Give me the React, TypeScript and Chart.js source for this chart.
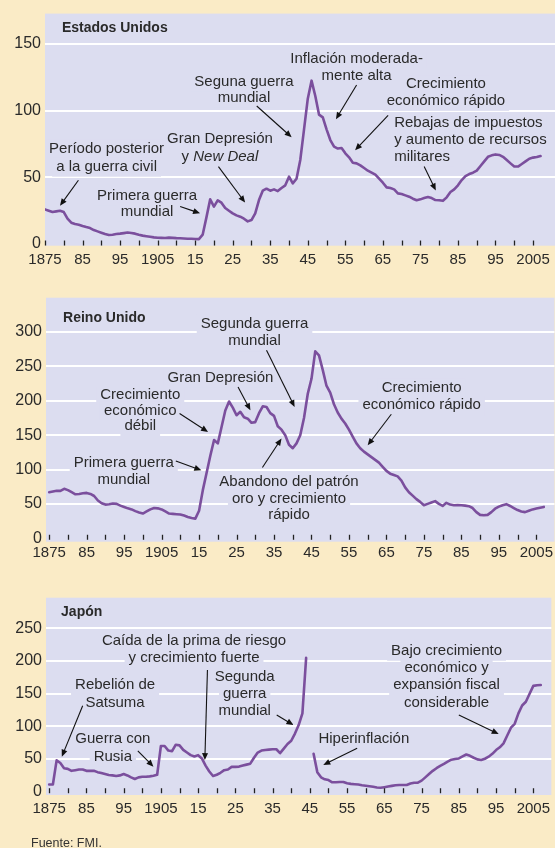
import React, { useEffect, useRef } from "react";
import { Chart, registerables } from "chart.js";

Chart.register(...registerables);

const BEIGE = "#FAEBC6";
const LAVENDER = "#DCDDF0";
const PURPLE = "#7B4F9D";
const TEXT = "#2A2A2A";
const FONT = '"Liberation Sans", Arial, sans-serif';
Chart.defaults.font.family = FONT;

// ---- Data (debt, % of GDP), one value per year 1875..2007 ----
const START_YEAR = 1875;

const US_DEBT = [
  26, 25, 24, 24.5, 25, 24, 19, 16, 15, 14.5, // 1875
  13.5, 12.7, 12, 10.5, 9.5, 8.5, 7.5, 6.8, 7, 7.5, // 1885
  7.8, 8.2, 8.6, 8.3, 7.8, 7, 6.3, 5.9, 5.5, 5, // 1895
  4.7, 4.6, 4.5, 4.8, 4.6, 4.4, 4.3, 4.2, 4, 4, // 1905
  3.8, 3.7, 7, 20, 33.5, 28, 32.8, 31, 27, 25, // 1915
  23, 21.5, 20.5, 19, 17, 18, 23, 33, 40, 41.5, // 1925
  40, 41, 39.7, 42, 44, 50.5, 45.5, 49, 63, 86, // 1935
  109, 122.5, 111, 97, 95, 86, 78, 73, 71.6, 72, // 1945
  68, 65, 61, 60.5, 59, 57, 55, 53.5, 52, 49, // 1955
  46, 42.5, 42, 41, 38, 37.5, 36.5, 35.5, 34, 32.8, // 1965
  33.5, 34.5, 35.3, 34.5, 33, 32.8, 32.4, 35, 39, 41, // 1975
  44, 48, 51, 52.5, 53.5, 55, 58.5, 62, 65.4, 66.5, // 1985
  67.2, 66.8, 65.4, 63, 60.5, 58.1, 58.1, 60, 62, 64, // 1995
  64.8, 65.2, 66, // 2005
];

const UK_DEBT = [
  67, 68, 69, 69, 72, 70, 67, 64, 64.5, 65.5, // 1875
  66, 64.5, 61.5, 55, 51, 49, 49.5, 50.5, 50, 47.5, // 1885
  45.5, 43.5, 42, 39.5, 37.5, 36, 39, 42, 44, 43.5, // 1895
  42, 39, 36, 35.5, 35, 34.5, 33, 31, 29.5, 28.5, // 1905
  40, 70, 95, 120, 143, 138, 162, 186, 199, 190, // 1915
  179, 184, 176, 174, 168, 169, 182, 192, 191, 182, // 1925
  178, 163, 158, 150, 136, 131, 138, 150, 175, 210, // 1935
  232, 272, 266, 245, 222, 212, 195, 183, 174, 167, // 1945
  158, 148, 138, 131, 126, 122, 118, 114, 110, 104, // 1955
  98, 94, 92, 90, 84, 74, 67, 62, 57, 53, // 1965
  48, 50, 52, 54, 50, 47, 51.5, 49, 48, 48.5, // 1975
  48, 47.5, 46.7, 44, 38, 34, 33.5, 34, 38, 43, // 1985
  46, 48, 49.6, 47, 44, 41, 39, 38, 40, 42, // 1995
  43.3, 44.5, 45.6, // 2005
];

const JAPAN_DEBT = [
  11, 11, 48, 44, 36, 35, 32, 33, 34, 34, // 1875
  32, 32, 32, 30, 28.5, 27, 25.5, 25, 24, 25, // 1885
  27, 25, 22, 19.5, 22, 23, 23, 23.5, 24.5, 26, // 1895
  70, 70, 63, 62, 72, 71, 64, 60, 56, 54, // 1905
  56, 51, 40, 31, 24, 26, 29, 33, 34, 38, // 1915
  38, 38.5, 40, 41.5, 43, 52, 60, 63, 64, 64.5, // 1925
  65, 65, 59, 66, 73, 78, 89, 102, 120, 205, // 1935
  null, 58, 30, 22, 19, 17.9, 14.5, 14.5, 15, 15, // 1945
  13, 12, 11.5, 11, 10, 9.2, 8.5, 7.5, 6.5, 6, // 1955
  7, 8, 9, 10, 10.3, 10.3, 10.3, 12.5, 13.8, 13.8, // 1965
  17, 22, 27, 32, 36, 39.5, 42.5, 46, 49, 50, // 1975
  51, 54, 57, 55, 52, 49.5, 48.5, 50.5, 53.6, 58, // 1985
  63.8, 68, 74, 86, 98, 104, 120, 132, 137.7, 150, // 1995
  162, 163, 163.3, // 2005
];

const YEARS = US_DEBT.map((_, i) => START_YEAR + i);

const X_TICK_YEARS = [1875, 1885, 1895, 1905, 1915, 1925, 1935, 1945, 1955, 1965, 1975, 1985, 1995, 2005];
const X_TICK_LABELS = ["1875", "85", "95", "1905", "15", "25", "35", "45", "55", "65", "75", "85", "95", "2005"];
const X_MINOR_TICK_YEARS = [
  1875, 1880, 1885, 1890, 1895, 1900, 1905, 1910, 1915, 1920, 1925, 1930, 1935, 1940,
  1945, 1950, 1955, 1960, 1965, 1970, 1975, 1980, 1985, 1990, 1995, 2000, 2005,
];

const US_Y_TICKS = [0, 50, 100, 150];
const UK_Y_TICKS = [0, 50, 100, 150, 200, 250, 300];
const JAPAN_Y_TICKS = [0, 50, 100, 150, 200, 250];

// ---- Annotations ----
type Seg = { t: string; italic?: boolean };
type Line = string | Seg[];
type Note = {
  lines: Line[];
  x: number;
  y: number;
  lh?: number;
  align?: "center" | "left";
  bold?: boolean;
  box?: boolean;
  arrow?: [number, number, number, number];
};

const US_NOTES: Note[] = [
  { lines: ["Estados Unidos"], x: 1879.5, y: 161.8, align: "left", bold: true, box: false },
  { lines: ["Período posterior", "a la guerra civil"], x: 1891.4, y: 71.5, lh: 18, arrow: [1883.9, 47.8, 1879, 28.7] },
  { lines: ["Primera guerra", "mundial"], x: 1902.2, y: 36.5, lh: 16.5, arrow: [1911, 28.2, 1916.3, 23.0] },
  { lines: ["Gran Depresión", [{ t: "y " }, { t: "New Deal", italic: true }]], x: 1921.6, y: 78.9, lh: 18, arrow: [1921.2, 58.1, 1928.3, 31.1] },
  { lines: ["Seguna guerra", "mundial"], x: 1928.0, y: 121.8, lh: 16, arrow: [1931.4, 103.5, 1940.7, 80.1] },
  { lines: ["Inflación moderada-", "mente alta"], x: 1958.0, y: 139.0, lh: 17.5, arrow: [1958.0, 119.3, 1952.5, 93.6] },
  { lines: ["Crecimiento", "económico rápido"], x: 1981.8, y: 119.9, lh: 16.7, arrow: [1966.4, 96.5, 1957.6, 70.4] },
  { lines: ["Rebajas de impuestos", "y aumento de recursos", "militares"], x: 1968.0, y: 90.7, lh: 16.8, align: "left", arrow: [1976.0, 58.1, 1979.1, 40.2] },
];

const UK_NOTES: Note[] = [
  { lines: ["Reino Unido"], x: 1878.7, y: 320.3, align: "left", bold: true, box: false },
  { lines: ["Segunda guerra", "mundial"], x: 1929.8, y: 312.2, lh: 17.4, arrow: [1933.0, 273.4, 1940.5, 191.0] },
  { lines: ["Gran Depresión"], x: 1920.7, y: 233.7, arrow: [1925.4, 220.1, 1928.7, 186.2] },
  { lines: ["Crecimiento", "económico", "débil"], x: 1899.3, y: 208.0, lh: 15.5, arrow: [1909.8, 181.4, 1917.4, 154.7] },
  { lines: ["Primera guerra", "mundial"], x: 1894.9, y: 109.6, lh: 16.6, arrow: [1908.8, 112.5, 1915.6, 99.0] },
  { lines: ["Abandono del patrón", "oro y crecimiento", "rápido"], x: 1939.0, y: 82.0, lh: 16.7, arrow: [1931.9, 102.9, 1937.0, 145.1] },
  { lines: ["Crecimiento", "económico rápido"], x: 1974.4, y: 219.2, lh: 17.7, arrow: [1966.3, 180.4, 1960.0, 135.3] },
];

const JAPAN_NOTES: Note[] = [
  { lines: ["Japón"], x: 1878.2, y: 275.4, align: "left", bold: true, box: false },
  { lines: ["Caída de la prima de riesgo", "y crecimiento fuerte"], x: 1913.9, y: 231.1, lh: 17.6, arrow: [1917.5, 186.2, 1916.8, 48.5] },
  { lines: ["Segunda", "guerra", "mundial"], x: 1927.5, y: 176.0, lh: 17, arrow: [1936.1, 117.4, 1940.6, 102.1] },
  { lines: ["Rebelión de", "Satsuma"], x: 1892.7, y: 163.3, lh: 17.7, arrow: [1884.0, 131.6, 1878.4, 53.6] },
  { lines: ["Guerra con", "Rusia"], x: 1892.1, y: 80.6, lh: 17.7, arrow: [1898.8, 62.7, 1903.0, 38.3] },
  { lines: ["Hiperinflación"], x: 1959.5, y: 80.6, arrow: [1957.7, 66.4, 1948.6, 40.9] },
  { lines: ["Bajo crecimiento", "económico y", "expansión fiscal", "considerable"], x: 1981.7, y: 215.8, lh: 17.3, arrow: [1985.0, 117.4, 1995.7, 88.3] },
];

type PanelSpec = {
  values: (number | null)[];
  notes: Note[];
  yTicks: number[];
  top: number;
  height: number;
  padTop: number;
  xAxisH: number;
  left: number;
  xMin: number;
  xMax: number;
  yMin: number;
  yMax: number;
  xPad: number;
};

const PANELS: PanelSpec[] = [
  { values: US_DEBT, notes: US_NOTES, yTicks: US_Y_TICKS, top: 0, height: 275, padTop: 9, xAxisH: 29.3, left: 45, xMin: 1875, xMax: 2010.85, yMin: -1.25, yMax: 172.8, xPad: 5 },
  { values: UK_DEBT, notes: UK_NOTES, yTicks: UK_Y_TICKS, top: 280, height: 285, padTop: 17.7, xAxisH: 23.3, left: 46, xMin: 1874.15, xMax: 2009.84, yMin: -5, yMax: 350, xPad: 2 },
  { values: JAPAN_DEBT, notes: JAPAN_NOTES, yTicks: JAPAN_Y_TICKS, top: 580, height: 268, padTop: 17.7, xAxisH: 53, left: 46, xMin: 1874.15, xMax: 2009.84, yMin: -5, yMax: 297, xPad: 5 },
];

const NOTE_SIZE = 15;

function lineSegs(line: Line): Seg[] {
  return typeof line === "string" ? [{ t: line }] : line;
}

function segFont(seg: Seg, bold?: boolean) {
  return `${seg.italic ? "italic " : ""}${bold ? "bold " : ""}${bold ? 14 : NOTE_SIZE}px ${FONT}`;
}

function lineWidth(ctx: CanvasRenderingContext2D, line: Line, bold?: boolean) {
  let w = 0;
  for (const s of lineSegs(line)) {
    ctx.font = segFont(s, bold);
    w += ctx.measureText(s.t).width;
  }
  return w;
}

function drawArrow(ctx: CanvasRenderingContext2D, x1: number, y1: number, x2: number, y2: number) {
  const a = Math.atan2(y2 - y1, x2 - x1);
  const L = 7;
  const W = 3;
  ctx.strokeStyle = "#111";
  ctx.fillStyle = "#111";
  ctx.lineWidth = 1.1;
  ctx.beginPath();
  ctx.moveTo(x1, y1);
  ctx.lineTo(x2 - (L - 1) * Math.cos(a), y2 - (L - 1) * Math.sin(a));
  ctx.stroke();
  ctx.beginPath();
  ctx.moveTo(x2, y2);
  ctx.lineTo(x2 - L * Math.cos(a) + W * Math.sin(a), y2 - L * Math.sin(a) - W * Math.cos(a));
  ctx.lineTo(x2 - L * Math.cos(a) - W * Math.sin(a), y2 - L * Math.sin(a) + W * Math.cos(a));
  ctx.closePath();
  ctx.fill();
}

function makePlugin(spec: PanelSpec) {
  return {
    id: "panelDecor",
    beforeDraw(chart: any) {
      const { ctx, chartArea: a } = chart;
      ctx.save();
      ctx.fillStyle = LAVENDER;
      ctx.fillRect(a.left, a.top, a.right - a.left, a.bottom - a.top);
      ctx.restore();
    },
    beforeDatasetsDraw(chart: any) {
      const { ctx } = chart;
      const xs = chart.scales.x;
      const ys = chart.scales.y;
      ctx.save();
      ctx.fillStyle = LAVENDER;
      for (const n of spec.notes) {
        if (n.box === false) continue;
        const px = xs.getPixelForValue(n.x);
        const py = ys.getPixelForValue(n.y);
        n.lines.forEach((line, i) => {
          const w = lineWidth(ctx, line, n.bold);
          const cy = py + i * (n.lh ?? 17);
          const lx = n.align === "left" ? px : px - w / 2;
          ctx.fillRect(lx - 4, cy - 9, w + 8, 19);
        });
      }
      ctx.restore();
    },
    afterDatasetsDraw(chart: any) {
      const { ctx } = chart;
      const xs = chart.scales.x;
      const ys = chart.scales.y;
      ctx.save();
      // minor ticks along the bottom
      const y0 = ys.getPixelForValue(0);
      ctx.strokeStyle = "#222";
      ctx.lineWidth = 1.3;
      for (const yr of X_MINOR_TICK_YEARS) {
        const x = Math.round(xs.getPixelForValue(yr)) + 0.5;
        ctx.beginPath();
        ctx.moveTo(x, y0 + 1.5);
        ctx.lineTo(x, y0 - 3.5);
        ctx.stroke();
      }
      // annotations
      for (const n of spec.notes) {
        const px = xs.getPixelForValue(n.x);
        const py = ys.getPixelForValue(n.y);
        ctx.textBaseline = "middle";
        ctx.textAlign = "left";
        ctx.fillStyle = TEXT;
        n.lines.forEach((line, i) => {
          const w = lineWidth(ctx, line, n.bold);
          const cy = py + i * (n.lh ?? 17);
          let lx = n.align === "left" ? px : px - w / 2;
          for (const s of lineSegs(line)) {
            ctx.font = segFont(s, n.bold);
            ctx.fillText(s.t, lx, cy);
            lx += ctx.measureText(s.t).width;
          }
        });
        if (n.arrow) {
          const [ax1, ay1, ax2, ay2] = n.arrow;
          drawArrow(
            ctx,
            xs.getPixelForValue(ax1),
            ys.getPixelForValue(ay1),
            xs.getPixelForValue(ax2),
            ys.getPixelForValue(ay2)
          );
        }
      }
      ctx.restore();
    },
  };
}

function Panel({ spec }: { spec: PanelSpec }) {
  const ref = useRef<HTMLCanvasElement | null>(null);
  useEffect(() => {
    if (!ref.current) return;
    const chart = new Chart(ref.current, {
      type: "line",
      data: {
        datasets: [
          {
            data: YEARS.map((yr, i) => ({ x: yr, y: spec.values[i] })) as any,
            borderColor: PURPLE,
            borderWidth: 2.6,
            pointRadius: 0,
            tension: 0,
            spanGaps: false,
            fill: false,
            borderJoinStyle: "round",
            borderCapStyle: "round",
          },
        ],
      },
      options: {
        animation: false,
        responsive: false,
        events: [],
        layout: { padding: { top: spec.padTop, left: 0, right: 0, bottom: 0 } },
        plugins: {
          legend: { display: false },
          tooltip: { enabled: false },
          title: { display: false },
        },
        scales: {
          x: {
            type: "linear",
            min: spec.xMin,
            max: spec.xMax,
            grid: { display: false, drawTicks: false },
            border: { display: false },
            afterBuildTicks: (s: any) => {
              s.ticks = X_TICK_YEARS.map((v) => ({ value: v }));
            },
            afterFit: (s: any) => {
              s.height = spec.xAxisH;
            },
            ticks: {
              autoSkip: false,
              maxRotation: 0,
              padding: spec.xPad,
              color: TEXT,
              font: { family: FONT, size: 15 },
              callback: (_v: any, i: number) => X_TICK_LABELS[i],
            },
          },
          y: {
            min: spec.yMin,
            max: spec.yMax,
            afterBuildTicks: (s: any) => {
              s.ticks = spec.yTicks.map((v) => ({ value: v }));
            },
            afterFit: (s: any) => {
              s.width = spec.left;
            },
            grid: {
              color: (c: any) => (c.tick && c.tick.value === 0 ? "rgba(0,0,0,0)" : "#FFFFFF"),
              lineWidth: 2,
              drawTicks: false,
            },
            border: { display: false },
            ticks: {
              autoSkip: false,
              padding: 4,
              color: TEXT,
              font: { family: FONT, size: 16 },
              callback: (v: any) => String(v),
            },
          },
        },
      } as any,
      plugins: [makePlugin(spec)],
    });
    return () => chart.destroy();
  }, [spec]);
  return (
    <canvas
      ref={ref}
      width={555}
      height={spec.height}
      style={{ position: "absolute", left: 0, top: spec.top, width: 555, height: spec.height }}
    />
  );
}

export default function App() {
  return (
    <div
      style={{
        position: "fixed",
        left: 0,
        top: 0,
        width: 555,
        height: 848,
        background: BEIGE,
        overflow: "hidden",
      }}
    >
      {PANELS.map((p, i) => (
        <Panel key={i} spec={p} />
      ))}
      <div
        style={{
          position: "absolute",
          left: 31,
          top: 836,
          fontFamily: FONT,
          fontSize: 12.5,
          color: "#333",
          lineHeight: "14px",
          whiteSpace: "nowrap",
        }}
      >
        Fuente: FMI.
      </div>
    </div>
  );
}
